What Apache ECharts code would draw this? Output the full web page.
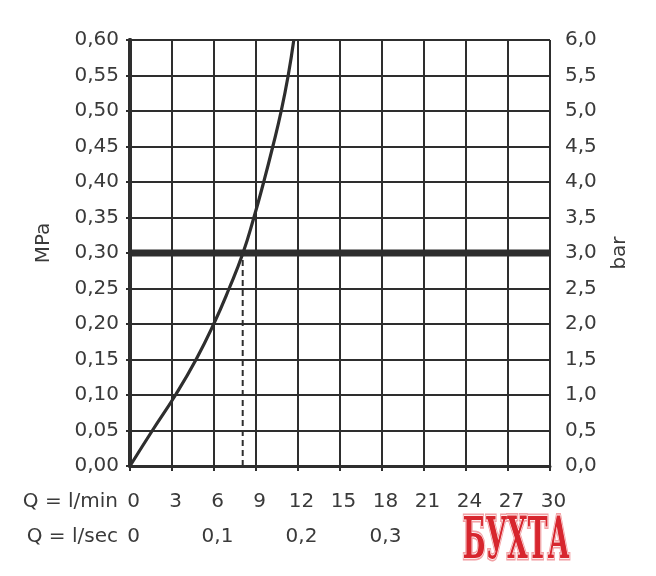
<!DOCTYPE html>
<html>
<head>
<meta charset="utf-8">
<script src="https://cdn.jsdelivr.net/npm/echarts@6/dist/echarts.min.js"></script>
<style>
  html, body { margin: 0; padding: 0; background: #fff; }
  #chart { width: 656px; height: 576px; }
</style>
</head>
<body>
<div id="chart"></div>
<script>
// Kennlinie Druck / Durchfluss
const flowLpm = [0, 1.6, 3.25, 4.72, 5.98, 7.08, 8.07, 8.85, 9.55, 10.2, 10.8, 11.3, 11.7];
const pressureMPa = [0, 0.05, 0.10, 0.15, 0.20, 0.25, 0.30, 0.35, 0.40, 0.45, 0.50, 0.55, 0.60];
const workPressure = 0.30; // dicke Linie
const workFlow = 8.05;     // gestrichelte Linie
const lminTicks = [0, 3, 6, 9, 12, 15, 18, 21, 24, 27, 30];
const lsecTicks = ['0', '0,1', '0,2', '0,3'];

const ink = '#2e2e2e';
const txt = '#3a3a3a';
const font = 'DejaVu Sans';
const fs = 20;

const chart = echarts.init(document.getElementById('chart'));

const option = {
  animation: false,
  backgroundColor: '#fff',
  grid: { left: 130, right: 106, top: 40, bottom: 110 },
  xAxis: [
    {
      type: 'value',
      min: lminTicks[0],
      max: lminTicks[lminTicks.length - 1],
      interval: 3,
      axisLine: { show: true, lineStyle: { color: ink, width: 3 } },
      axisTick: { show: true, length: 5, lineStyle: { color: ink, width: 2 } },
      splitLine: { show: true, lineStyle: { color: ink, width: 2 } },
      axisLabel: {
        margin: 26, color: txt, fontSize: fs, fontFamily: font,
        padding: [0, 0, 0, 7],
        formatter: v => lminTicks.includes(v) ? String(v) : ''
      }
    },
    {
      type: 'value',
      position: 'bottom',
      offset: 35,
      min: 0,
      max: 0.5, // 30 l/min
      interval: 0.1,
      axisLine: { show: false },
      axisTick: { show: false },
      splitLine: { show: false },
      axisLabel: {
        margin: 26, color: txt, fontSize: fs, fontFamily: font,
        padding: [0, 0, 0, 7],
        formatter: v => lsecTicks[Math.round(v * 10)] || ''
      }
    }
  ],
  yAxis: [
    {
      type: 'value',
      min: 0, max: 0.6, interval: 0.05,
      name: 'MPa',
      nameLocation: 'middle',
      nameRotate: 90,
      nameGap: 76,
      nameTextStyle: { color: txt, fontSize: fs, fontFamily: font, padding: [0, 0, 0, 20] },
      axisLine: { show: true, lineStyle: { color: ink, width: 4 } },
      axisTick: { show: true, length: 4, lineStyle: { color: ink, width: 2 } },
      splitLine: { show: true, lineStyle: { color: ink, width: 2 } },
      axisLabel: {
        margin: 11, color: txt, fontSize: fs, fontFamily: font,
        formatter: v => v.toFixed(2).replace('.', ',')
      }
    },
    {
      type: 'value',
      position: 'right',
      min: 0, max: 6, interval: 0.5,
      name: 'bar',
      nameLocation: 'middle',
      nameRotate: 90,
      nameGap: 60,
      nameTextStyle: { color: txt, fontSize: fs, fontFamily: font },
      axisLine: { show: true, lineStyle: { color: ink, width: 4 } },
      axisTick: { show: true, length: 4, lineStyle: { color: ink, width: 2 } },
      splitLine: { show: false },
      axisLabel: {
        margin: 15, color: txt, fontSize: fs, fontFamily: font,
        formatter: v => v.toFixed(1).replace('.', ',')
      }
    }
  ],
  series: [
    {
      type: 'line',
      data: [[lminTicks[0], workPressure], [lminTicks[lminTicks.length - 1], workPressure]],
      symbol: 'none',
      lineStyle: { color: ink, width: 7 },
      silent: true
    },
    {
      type: 'line',
      data: [[workFlow, 0], [workFlow, workPressure]],
      symbol: 'none',
      lineStyle: { color: ink, width: 2, type: [6, 4] },
      silent: true
    },
    {
      type: 'line',
      data: flowLpm.map((q, i) => [q, pressureMPa[i]]),
      smooth: 0.5,
      symbol: 'none',
      lineStyle: { color: ink, width: 3.2 },
      silent: true
    }
  ],
  graphic: [
    { type: 'text', x: 118, y: 502, z: 10,
      style: { text: 'Q = l/min', fill: txt, font: fs + 'px "DejaVu Sans"', textAlign: 'right', textVerticalAlign: 'middle' } },
    { type: 'text', x: 118, y: 537, z: 10,
      style: { text: 'Q = l/sec', fill: txt, font: fs + 'px "DejaVu Sans"', textAlign: 'right', textVerticalAlign: 'middle' } },
    // Wasserzeichen
    { type: 'rect', z: 100, shape: { x: 455, y: 508, width: 150, height: 68 }, style: { fill: '#fff' } },
    { type: 'text', x: 516, y: 543, z: 101, scaleX: 0.46,
      style: { text: 'БУХТА', fill: '#d7262e', stroke: '#f2a0a4', lineWidth: 5,
        font: 'bold 58px "DejaVu Serif"', textAlign: 'center', textVerticalAlign: 'middle' } },
    { type: 'text', x: 516, y: 543, z: 102, scaleX: 0.46,
      style: { text: 'БУХТА', fill: '#d7262e', stroke: '#fff', lineWidth: 1.5,
        font: 'bold 58px "DejaVu Serif"', textAlign: 'center', textVerticalAlign: 'middle' } }
  ]
};

chart.setOption(option);
</script>
</body>
</html>
